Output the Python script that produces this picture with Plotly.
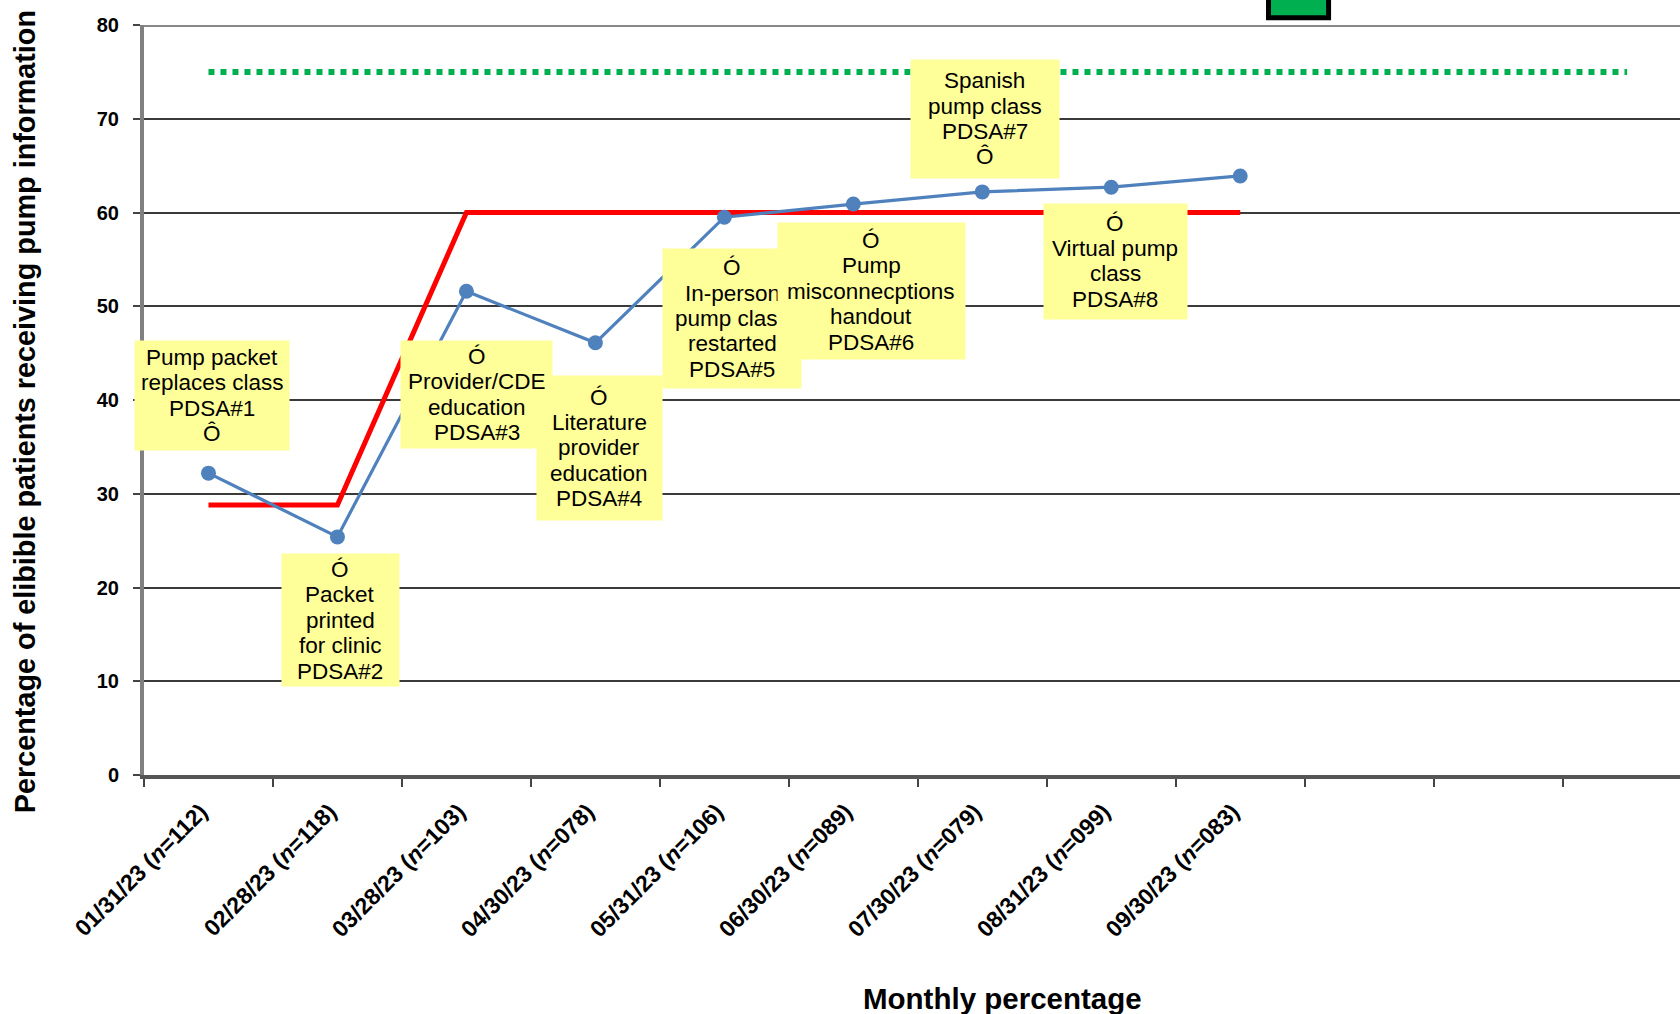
import plotly.graph_objects as go

# Monthly data
month_ends = ["01/31/23", "02/28/23", "03/28/23", "04/30/23", "05/31/23",
              "06/30/23", "07/30/23", "08/31/23", "09/30/23"]
sample_sizes = ["112", "118", "103", "078", "106", "089", "079", "099", "083"]
pct_receiving = [32.2, 25.4, 51.6, 46.1, 59.5, 60.9, 62.2, 62.7, 63.9]
centerline = [28.8, 28.8, 60, 60, 60, 60, 60, 60, 60]
goal_value = 75
goal_span = 12          # goal line runs across twelve monthly slots

# PDSA cycle notes: (lines, slot, y-value, box width px, box height px)
# listed in stacking order: later notes are drawn on top of earlier ones
pdsa_notes = [
    (["Pump packet", "replaces class", "PDSA#1", "Ô"], 0.03, 40.5, 154, 109),
    (["Ó", "Packet", "printed", "for clinic", "PDSA#2"], 1.02, 16.5, 117, 132),
    (["Ó", "Literature", "provider", "education", "PDSA#4"], 3.03, 34.9, 125, 144),
    (["Ó", "Provider/CDE", "education", "PDSA#3"], 2.08, 40.6, 151, 107),
    (["Ó", "In-person", "pump class", "restarted", "PDSA#5"], 4.06, 48.7, 138, 139),
    (["Ó", "Pump", "misconnecptions", "handout", "PDSA#6"], 5.14, 51.6, 187, 136),
    (["Spanish", "pump class", "PDSA#7", "Ô"], 6.02, 70.0, 148, 118),
    (["Ó", "Virtual pump", "class", "PDSA#8"], 7.03, 54.8, 143, 115),
]

FONT = "Liberation Sans, Arial, sans-serif"
NOTE_SIZE = 22.5
NOTE_LINE = 25.4        # baseline spacing of note text, px

x_idx = list(range(len(month_ends)))
tick_text = [f"{d} (<i>n</i>={n})" for d, n in zip(month_ends, sample_sizes)]

fig = go.Figure()

# goal line
fig.add_trace(go.Scatter(
    x=list(range(goal_span)), y=[goal_value] * goal_span, mode="lines",
    line=dict(color="#00B050", width=6, dash="dot"),
    hoverinfo="skip", showlegend=False,
))

# centerline
fig.add_trace(go.Scatter(
    x=x_idx, y=centerline, mode="lines",
    line=dict(color="#FF0000", width=5),
    hoverinfo="skip", showlegend=False,
))

# monthly percentage
fig.add_trace(go.Scatter(
    x=x_idx, y=pct_receiving, mode="lines+markers",
    line=dict(color="#4F81BD", width=3.2),
    marker=dict(color="#4F81BD", size=15),
    showlegend=False,
))

# note boxes, each followed by its own lines of text
for lines, xs, yv, w, h in pdsa_notes:
    fig.add_annotation(
        x=xs, y=yv, xref="x", yref="y", text=" ", showarrow=False,
        bgcolor="#FFFF99", borderpad=0, width=w, height=h,
        font=dict(family=FONT, size=NOTE_SIZE),
    )
    n = len(lines)
    for k, line in enumerate(lines):
        fig.add_annotation(
            x=xs, y=yv, xref="x", yref="y", text=line, showarrow=False,
            yshift=((n - 1) / 2 - k) * NOTE_LINE,
            font=dict(family=FONT, size=NOTE_SIZE, color="#000000"),
            xanchor="center", yanchor="middle",
        )

# axis titles
fig.add_annotation(
    x=0.559, y=-0.298, xref="paper", yref="paper", text="<b>Monthly percentage</b>",
    showarrow=False, font=dict(family=FONT, size=29.5, color="#000000"),
    xanchor="center", yanchor="middle",
)
fig.add_annotation(
    x=-0.0775, y=0.485, xref="paper", yref="paper", textangle=-90,
    text="<b>Percentage of elibible patients receiving pump information</b>",
    showarrow=False, font=dict(family=FONT, size=28.8, color="#000000"),
    xanchor="center", yanchor="middle",
)

# top frame of the plot area
fig.add_shape(type="line", xref="paper", yref="y", x0=0, x1=1, y0=80, y1=80,
              line=dict(color="#888888", width=4), layer="above")

# legend swatch peeking in above the plot
fig.add_shape(type="rect", xref="paper", yref="paper",
              x0=0.7321, x1=0.7712, y0=1.0097, y1=1.05,
              fillcolor="#00B050", line=dict(color="#000000", width=5),
              layer="above")

fig.update_layout(
    width=1680, height=1014,
    margin=dict(l=144, r=0, t=24.5, b=239),
    paper_bgcolor="white", plot_bgcolor="white",
    font=dict(family=FONT, color="#000000"),
    xaxis=dict(
        range=[-0.5, 11.41], tickmode="array",
        tickvals=[i - 0.06 for i in x_idx], ticktext=tick_text,
        tickangle=-45, ticks="", ticklabelstandoff=10,
        tickfont=dict(family=FONT, size=23, weight="bold", color="#000000"),
        showgrid=False, zeroline=False,
        showline=True, linecolor="#555555", linewidth=4,
        minor=dict(tickvals=[i - 0.5 for i in range(13)], ticks="outside",
                   ticklen=8, tickwidth=1.5, tickcolor="#444444", showgrid=False),
    ),
    yaxis=dict(
        range=[0, 80], tickvals=list(range(0, 81, 10)),
        ticks="outside", ticklen=7, tickwidth=1.5, tickcolor="#444444",
        ticklabelstandoff=10,
        tickfont=dict(family=FONT, size=20, weight="bold", color="#000000"),
        showgrid=True, gridcolor="#3a3a3a", gridwidth=1.5, zeroline=False,
        showline=True, linecolor="#808080", linewidth=4,
    ),
)

fig.write_html("out.html")
